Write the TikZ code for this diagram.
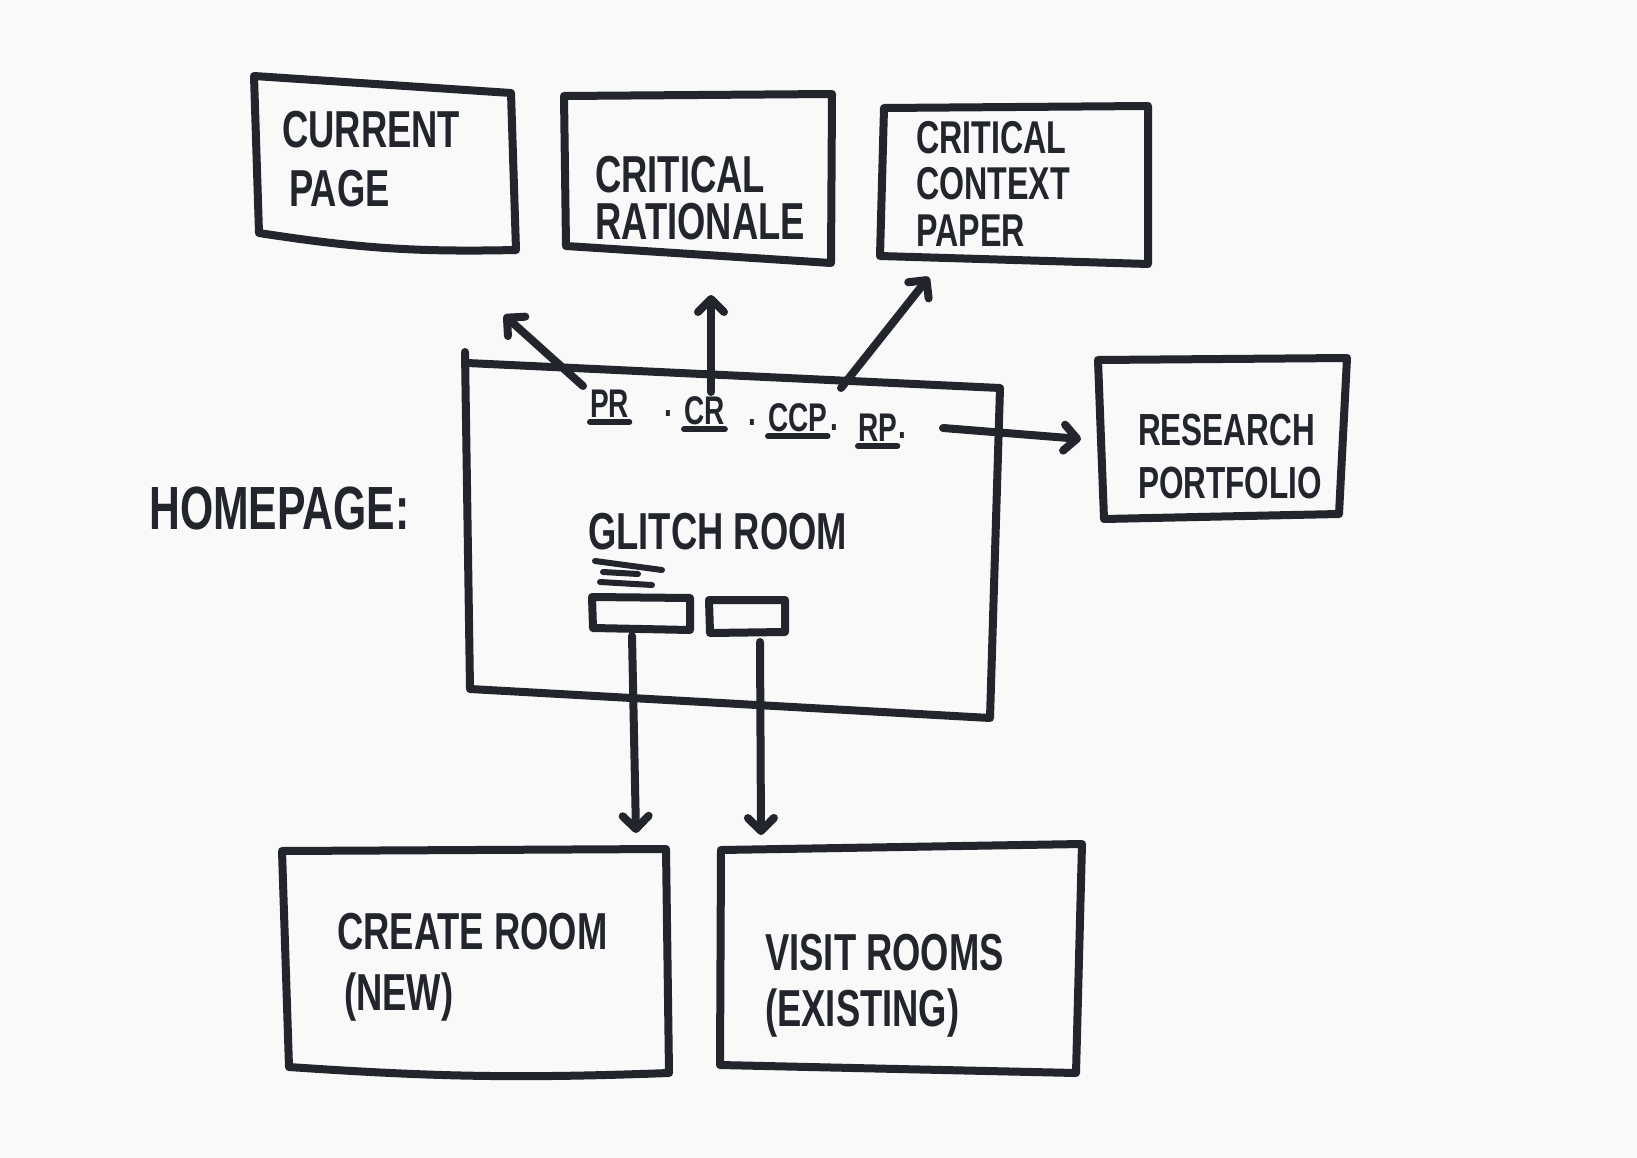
\documentclass[tikz,border=0pt]{standalone}
\usepackage{fontspec}
\setmainfont{Liberation Sans}
\newfontfamily\hand{Liberation Sans}[FakeStretch=0.7]
\usetikzlibrary{arrows.meta}
\definecolor{ink}{HTML}{23252D}
\definecolor{paper}{HTML}{F9F9F9}
\begin{document}
\begin{tikzpicture}[x=1pt,y=-1pt,
  inkline/.style={draw=ink, line width=8pt, line cap=round, line join=round},
  arr/.style={inkline, -{Straight Barb[length=13pt,width=26pt,round]}},
  txt/.style={anchor=west, text=ink, inner sep=0pt, font=\hand\bfseries\fontsize{52}{56}\selectfont},
  smalltxt/.style={txt, font=\hand\bfseries\fontsize{40}{44}\selectfont},
  midtxt/.style={txt, font=\hand\bfseries\fontsize{45}{49}\selectfont},
  ccptxt/.style={txt, font=\hand\bfseries\fontsize{46}{50}\selectfont},
  bigtxt/.style={txt, font=\hand\bfseries\fontsize{61}{65}\selectfont}]
\fill[paper] (0,0) rectangle (1637,1158);
\useasboundingbox (0,0) rectangle (1637,1158);

% box corners
\coordinate (cp-tl) at (254,76);  \coordinate (cp-tr) at (511,93);
\coordinate (cp-br) at (516,250); \coordinate (cp-bl) at (259,233);
\coordinate (cr-tl) at (564,96);  \coordinate (cr-tr) at (832,94);
\coordinate (cr-br) at (831,263); \coordinate (cr-bl) at (566,246);
\coordinate (cc-tl) at (884,108); \coordinate (cc-tr) at (1148,106);
\coordinate (cc-br) at (1148,264);\coordinate (cc-bl) at (880,256);
\coordinate (hp-tl) at (467,363); \coordinate (hp-tr) at (1000,388);
\coordinate (hp-br) at (990,718); \coordinate (hp-bl) at (470,689);
\coordinate (rp-tl) at (1098,360);\coordinate (rp-tr) at (1347,358);
\coordinate (rp-br) at (1339,514);\coordinate (rp-bl) at (1104,519);
\coordinate (cn-tl) at (282,851); \coordinate (cn-tr) at (666,849);
\coordinate (cn-br) at (669,1073);\coordinate (cn-bl) at (289,1067);
\coordinate (vr-tl) at (721,850); \coordinate (vr-tr) at (1082,844);
\coordinate (vr-br) at (1076,1073);\coordinate (vr-bl) at (720,1065);
\coordinate (b1-tl) at (592,597); \coordinate (b1-tr) at (690,598);
\coordinate (b1-br) at (690,630); \coordinate (b1-bl) at (593,628);
\coordinate (b2-tl) at (709,600); \coordinate (b2-tr) at (785,600);
\coordinate (b2-br) at (785,632); \coordinate (b2-bl) at (710,633);

% boxes
\draw[inkline] (cp-tl) -- (cp-tr) -- (cp-br) to[bend left=5] (cp-bl) -- cycle;
\draw[inkline] (cr-tl) -- (cr-tr) -- (cr-br) -- (cr-bl) -- cycle;
\draw[inkline] (cc-tl) -- (cc-tr) -- (cc-br) -- (cc-bl) -- cycle;
\draw[inkline] (465,352) -- (hp-bl) -- (hp-br) -- (hp-tr) -- (hp-tl);
\draw[inkline] (rp-tl) -- (rp-tr) -- (rp-br) -- (rp-bl) -- cycle;
\draw[inkline] (cn-tl) -- (cn-tr) -- (cn-br) to[bend left=3] (cn-bl) -- cycle;
\draw[inkline] (vr-tl) -- (vr-tr) -- (vr-br) -- (vr-bl) -- cycle;
\draw[inkline] (b1-tl) -- (b1-tr) -- (b1-br) -- (b1-bl) -- cycle;
\draw[inkline] (b2-tl) -- (b2-tr) -- (b2-br) -- (b2-bl) -- cycle;

% strokes under GLITCH ROOM
\draw[inkline, line width=6pt] (595,561) -- (662,570);
\draw[inkline, line width=6pt] (603,572) -- (638,574);
\draw[inkline, line width=6pt] (600,582) -- (652,585);

% texts
\node[txt] (cur1) at (282,130) {CURRENT};
\node[txt] (cur2) at (289,189) {PAGE};
\node[txt] (rat1) at (595,175) {CRITICAL};
\node[txt] (rat2) at (595,222) {RATIONALE};
\node[ccptxt] (ccp1) at (916,138) {CRITICAL};
\node[ccptxt] (ccp2) at (916,184) {CONTEXT};
\node[ccptxt] (ccp3) at (916,231) {PAPER};
\node[bigtxt] (home) at (149,508) {HOMEPAGE:};
\node[txt] (glitch) at (588,532) {GLITCH ROOM};
\node[midtxt] (res1) at (1138,430) {RESEARCH};
\node[midtxt] (res2) at (1138,483) {PORTFOLIO};
\node[txt] (cre1) at (337,932) {CREATE ROOM};
\node[txt] (cre2) at (344,997) {(NEW)};
\node[txt] (vis1) at (765,953) {VISIT ROOMS};
\node[txt] (vis2) at (765,1013) {(EXISTING)};

% link labels
\node[smalltxt] (pr) at (590,404) {PR};
\node[smalltxt] (d1) at (664,414) {.};
\node[smalltxt] (crl) at (684,411) {CR};
\node[smalltxt] (d2) at (748,423) {.};
\node[smalltxt] (ccpl) at (768,418) {CCP};
\node[smalltxt] (d3) at (830,428) {.};
\node[smalltxt] (rpl) at (858,428) {RP};
\node[smalltxt] (d4) at (898,436) {.};
\draw[inkline, line width=6pt] ([yshift=-4pt]pr.south west) -- ([yshift=-4pt]pr.south east);
\draw[inkline, line width=6pt] ([yshift=-4pt]crl.south west) -- ([yshift=-4pt]crl.south east);
\draw[inkline, line width=6pt] ([yshift=-4pt]ccpl.south west) -- ([yshift=-4pt]ccpl.south east);
\draw[inkline, line width=6pt] ([yshift=-4pt]rpl.south west) -- ([yshift=-4pt]rpl.south east);

% arrow ends
\coordinate (prs) at (583,386);   \coordinate (pre) at (504,315);
\coordinate (crs) at (711,392);   \coordinate (cre) at (711,295);
\coordinate (ccs) at (841,388);   \coordinate (cce) at (929,277);
\coordinate (rps) at (943,428);   \coordinate (rpe) at (1081,439);
\coordinate (b1s) at (632,636);   \coordinate (b1e) at (636,833);
\coordinate (b2s) at (760,642);   \coordinate (b2e) at (761,835);

\draw[arr] (prs) -- (pre);
\draw[arr] (crs) -- (cre);
\draw[arr] (ccs) -- (cce);
\draw[arr] (rps) -- (rpe);
\draw[arr] (b1s) -- (b1e);
\draw[arr] (b2s) -- (b2e);
\end{tikzpicture}
\end{document}
